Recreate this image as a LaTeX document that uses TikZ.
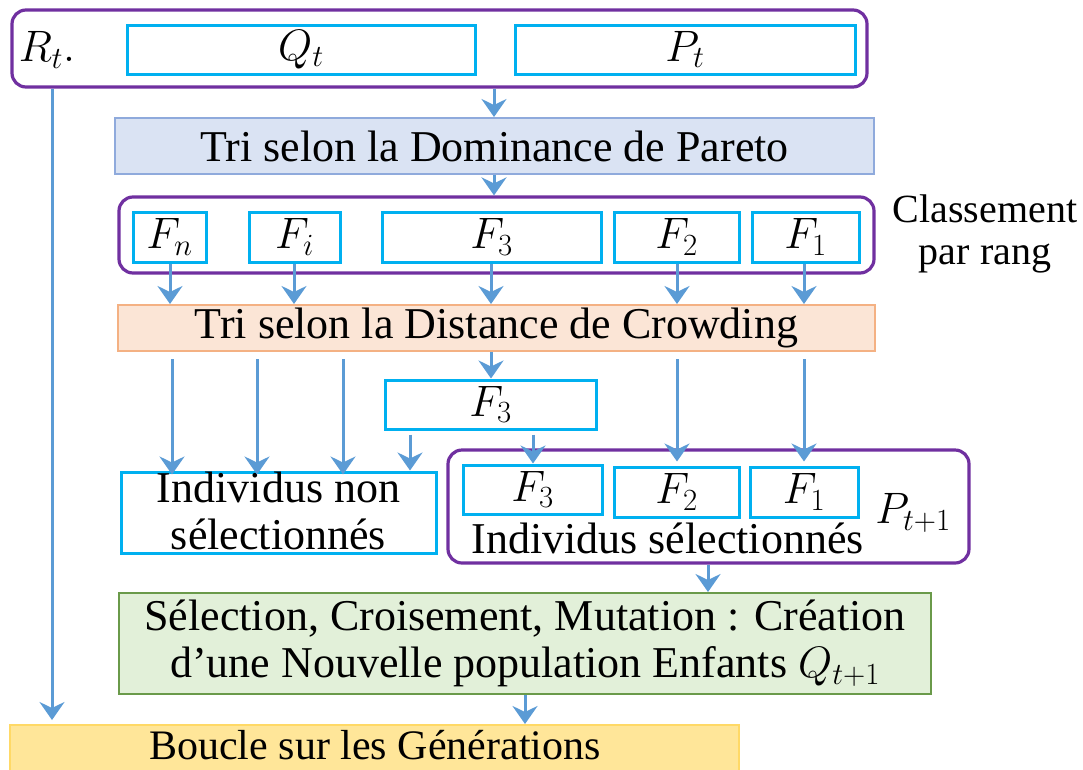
\RequirePackage{fix-cm}
\documentclass[tikz,border=0pt]{standalone}
\usepackage{fontspec}
\setmainfont{Liberation Serif}
\usetikzlibrary{arrows.meta}
\definecolor{purp}{HTML}{7030A0}
\definecolor{cyanc}{HTML}{00B0F0}
\definecolor{arrc}{HTML}{5B9BD5}
\definecolor{parfill}{HTML}{DAE3F3}
\definecolor{pardraw}{HTML}{8FAADC}
\definecolor{crofill}{HTML}{FBE5D6}
\definecolor{crodraw}{HTML}{F4B183}
\definecolor{grfill}{HTML}{E2F0D9}
\definecolor{grdraw}{HTML}{6A9A4A}
\definecolor{yefill}{HTML}{FFE699}
\definecolor{yedraw}{HTML}{FFD966}
\tikzset{
  pbox/.style={draw=purp, line width=3.2pt, rounded corners=14pt, rectangle, inner sep=0pt},
  cbox/.style={draw=cyanc, line width=3pt, rectangle, inner sep=0pt},
  fbox/.style={rectangle, inner sep=0pt, line width=2pt},
  lbl/.style={inner sep=0pt, align=center},
  arr/.style={draw=arrc, line width=3pt, -{Stealth[length=18pt,width=25pt,inset=6pt]}},
  lin/.style={draw=arrc, line width=3pt}
}
\begin{document}
\begin{tikzpicture}[x=1pt,y=-1pt,font=\fontsize{44}{47}\selectfont]
\useasboundingbox (0,0) rectangle (1083,769);
% top
\node[pbox, minimum width=855pt, minimum height=77pt] (top) at (439.5,48.5) {};
\node[lbl] (rt) at (47,50) {$R_t.$};
\node[cbox, minimum width=348pt, minimum height=49pt] (qt) at (301,49.5) {$Q_t$};
\node[cbox, minimum width=340pt, minimum height=49pt] (pt) at (685,49.5) {$P_t$};
% Pareto
\node[fbox, draw=pardraw, fill=parfill, minimum width=759pt, minimum height=56pt] (par) at (494.5,146) {Tri selon la Dominance de Pareto};
% classement
\node[pbox, minimum width=755pt, minimum height=76pt] (cls) at (496.5,235) {};
\node[cbox, minimum width=73pt, minimum height=50pt] (fn) at (169.5,237) {$F_n$};
\node[cbox, minimum width=91pt, minimum height=50pt] (fi) at (294.5,237) {$F_i$};
\node[cbox, minimum width=219pt, minimum height=50pt] (f3) at (491.5,237) {$F_3$};
\node[cbox, minimum width=125pt, minimum height=50pt] (f2) at (676.5,237) {$F_2$};
\node[cbox, minimum width=107pt, minimum height=50pt] (f1) at (805.5,237) {$F_1$};
\node[lbl, font=\fontsize{40}{42}\selectfont] (clt) at (985,234) {Classement\\par rang};
% crowding
\node[fbox, draw=crodraw, fill=crofill, minimum width=757pt, minimum height=46pt] (cro) at (496.5,328) {Tri selon la Distance de Crowding};
\node[cbox, minimum width=211pt, minimum height=49pt] (mf3) at (490.5,404.5) {$F_3$};
% non selected
\node[cbox, minimum width=315pt, minimum height=81pt] (non) at (278.5,512.5) {};
\node[lbl] (nont) at (278.5,511) {Individus non\\sélectionnés};
% selected
\node[pbox, minimum width=521pt, minimum height=113pt] (sel) at (708.5,506.5) {};
\node[cbox, minimum width=139pt, minimum height=49pt] (sf3) at (532.5,489.5) {$F_3$};
\node[cbox, minimum width=125pt, minimum height=50pt] (sf2) at (676.5,492) {$F_2$};
\node[cbox, minimum width=108pt, minimum height=50pt] (sf1) at (804,492) {$F_1$};
\node[lbl] (pt1) at (913,513) {$P_{t+1}$};
\node[lbl] (selt) at (667.5,538) {Individus sélectionnés};
% green
\node[fbox, draw=grdraw, fill=grfill, minimum width=812pt, minimum height=101pt, align=center] (gr) at (525,643.5) {Sélection, Croisement, Mutation : Création\\d’une Nouvelle population Enfants $Q_{t+1}$};
% yellow
\node[fbox, draw=yedraw, fill=yefill, minimum width=729pt, minimum height=55pt] (ye) at (374.5,752.5) {};
\node[lbl, font=\fontsize{42}{44}\selectfont] (yet) at (375,745) {Boucle sur les Générations};
% column coordinates
\coordinate (c52) at (52,0);
\coordinate (c170) at (170,0);
\coordinate (c172) at (172,0);
\coordinate (c257) at (257,0);
\coordinate (c294) at (294,0);
\coordinate (c343) at (343,0);
\coordinate (c410) at (410,0);
\coordinate (c491) at (491,0);
\coordinate (c494) at (494,0);
\coordinate (c533) at (533,0);
\coordinate (c525) at (525,0);
\coordinate (c677) at (677,0);
\coordinate (c708) at (708,0);
\coordinate (c804) at (804,0);
\coordinate (rtend) at (52,720);
% arrows
\draw[arr] (top.south -| c494) -- (par.north -| c494);
\draw[arr] (par.south -| c494) -- (cls.north -| c494);
\draw[arr] (fn.south -| c170) -- (cro.north -| c170);
\draw[arr] (fi.south -| c294) -- (cro.north -| c294);
\draw[arr] (f3.south -| c491) -- (cro.north -| c491);
\draw[arr] (f2.south -| c677) -- (cro.north -| c677);
\draw[arr] (f1.south -| c804) -- (cro.north -| c804);
\draw[arr] ([yshift=-7pt]cro.south -| c172) -- ([yshift=-4pt]non.north -| c172);
\draw[arr] ([yshift=-7pt]cro.south -| c257) -- ([yshift=-4pt]non.north -| c257);
\draw[arr] ([yshift=-7pt]cro.south -| c343) -- ([yshift=-4pt]non.north -| c343);
\draw[arr] (cro.south -| c491) -- (mf3.north -| c491);
\draw[arr] ([yshift=-4pt]mf3.south -| c410) -- (non.north -| c410);
\draw[arr] ([yshift=-4pt]mf3.south -| c533) -- (sf3.north -| c533);
\draw[arr] ([yshift=-7pt]cro.south -| c677) -- ([yshift=4pt]sf2.north -| c677);
\draw[arr] ([yshift=-7pt]cro.south -| c804) -- ([yshift=4pt]sf1.north -| c804);
\draw[arr] (sel.south -| c708) -- (gr.north -| c708);
\draw[arr] (gr.south -| c525) -- (ye.north -| c525);
\draw[arr] (top.south -| c52) -- (rtend);
\end{tikzpicture}
\end{document}
